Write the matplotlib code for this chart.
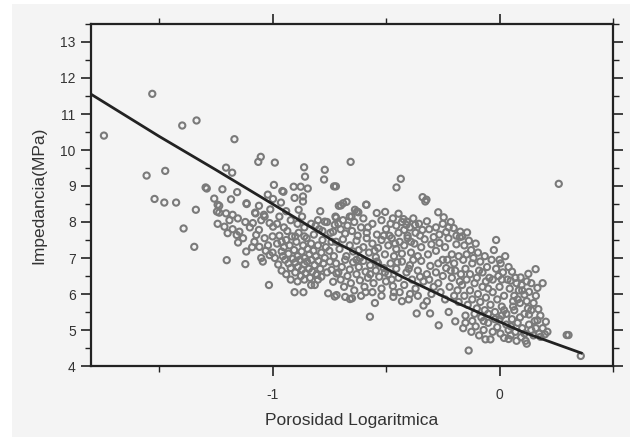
#!/usr/bin/env python3
"""
Impedancia vs Porosidad Logaritmica: nube de puntos con curva de ajuste
"""

import numpy as np
import matplotlib
matplotlib.use("Agg")
import matplotlib.pyplot as plt
from matplotlib.patches import Rectangle
from matplotlib.ticker import MultipleLocator

# ---- datos (x = porosidad log, y = impedancia MPa) ----
puntos_aislados = [
    (-1.743, 10.40), (-1.53, 11.56), (-1.398, 10.68), (-1.335, 10.82), (-1.168, 10.30),
    (-1.555, 9.29), (-1.473, 9.42), (-1.52, 8.64), (-1.477, 8.54), (-1.425, 8.54),
    (-1.338, 8.34), (-1.295, 8.96), (-1.290, 8.93), (-1.392, 7.82), (-1.345, 7.31),
    (-1.202, 6.94), (-1.12, 6.83), (-1.016, 6.25), (-0.903, 6.05), (-0.864, 6.05),
    (0.261, 9.06), (0.358, 4.28), (0.296, 4.86), (0.304, 4.86), (-0.136, 4.43),
    (-0.268, 5.13), (-0.571, 5.37), (-0.656, 9.67), (-1.052, 9.81), (-1.063, 9.67),
    (-0.99, 9.65), (-0.435, 9.20), (-0.454, 8.96), (-0.339, 8.69), (-0.322, 8.62),
]

banda_superior = [
    (-1.205, 9.51), (-1.178, 9.37), (-0.861, 9.52), (-0.857, 9.26), (-0.77, 9.45),
    (-0.773, 9.18), (-0.729, 8.99), (-0.994, 9.03), (-0.957, 8.86), (-0.952, 8.84),
    (-0.907, 8.98), (-0.876, 8.98), (-0.845, 8.93), (-0.903, 8.67), (-0.866, 8.71),
    (-0.866, 8.57), (-0.885, 8.34), (-1.221, 8.91), (-1.156, 8.83), (-1.183, 8.63),
    (-1.115, 8.52), (-1.235, 8.45), (-1.021, 8.76), (-0.998, 8.64), (-0.963, 8.54),
    (-1.077, 8.26), (-1.038, 8.20), (-0.723, 8.15), (-0.708, 8.45), (-1.257, 8.65),
    (-1.245, 8.29), (-0.721, 8.99), (-0.699, 8.46), (-0.674, 8.56), (-0.588, 8.48),
    (-0.628, 8.29), (-0.622, 8.27), (-0.541, 8.25), (-0.504, 8.28), (-0.445, 8.23),
    (-0.27, 8.27), (-0.246, 8.13), (-0.652, 8.15), (-0.423, 8.08), (-0.689, 8.52),
    (-0.637, 8.34), (-0.586, 8.48), (-0.408, 8.01), (-0.372, 7.92), (-0.327, 8.57),
    (-0.224, 7.85), (-0.202, 7.83), (-0.173, 7.73), (-0.143, 7.71),
]

nube_izquierda = [
    (-1.242, 8.48), (-1.235, 8.26), (-1.242, 7.95), (-1.205, 8.24), (-1.176, 8.20),
    (-1.153, 8.10), (-1.212, 7.87), (-1.198, 7.69), (-1.176, 7.80), (-1.158, 7.64),
    (-1.146, 7.73), (-1.152, 7.43), (-1.116, 7.18), (-1.114, 8.50), (-1.075, 8.24),
    (-1.087, 7.97), (-1.072, 7.64), (-1.08, 7.45), (-1.058, 7.31), (-1.035, 7.55),
    (-1.035, 8.15), (-1.013, 7.97), (-0.998, 7.87), (-1.043, 6.90), (-1.013, 7.08),
    (-1.13, 7.55), (-1.10, 7.85), (-1.09, 7.30), (-1.06, 7.78), (-1.05, 8.05),
    (-1.02, 7.35), (-1.0, 7.15), (-1.03, 7.20), (-1.12, 8.0), (-1.19, 8.05),
    (-1.0, 7.6), (-1.01, 8.35), (-1.06, 8.45),
]

nucleo_denso = [
    (-0.98, 7.40), (-0.97, 7.62), (-0.96, 7.18), (-0.955, 7.05), (-0.95, 7.30),
    (-0.945, 6.95), (-0.94, 7.50), (-0.935, 7.75), (-0.93, 6.85), (-0.93, 7.12),
    (-0.925, 7.35), (-0.92, 6.72), (-0.915, 7.60), (-0.91, 6.98), (-0.905, 7.22),
    (-0.90, 6.60), (-0.90, 6.88), (-0.895, 7.45), (-0.89, 7.05), (-0.888, 6.75),
    (-0.885, 7.70), (-0.88, 6.95), (-0.875, 6.50), (-0.872, 7.18), (-0.87, 6.68),
    (-0.865, 7.35), (-0.86, 6.82), (-0.858, 7.00), (-0.855, 6.58), (-0.85, 7.55),
    (-0.848, 6.90), (-0.845, 7.25), (-0.84, 6.70), (-0.838, 7.10), (-0.835, 6.45),
    (-0.83, 7.40), (-0.828, 6.95), (-0.825, 6.62), (-0.82, 7.20), (-0.818, 7.65),
    (-0.815, 6.80), (-0.81, 7.05), (-0.805, 6.55), (-0.80, 7.35), (-0.798, 6.92),
    (-0.795, 7.80), (-0.79, 6.70), (-0.785, 7.15), (-0.78, 7.50), (-0.776, 6.85),
    (-0.77, 7.00), (-0.765, 7.30), (-0.76, 6.60), (-0.96, 6.65), (-0.975, 6.82),
    (-0.99, 7.00), (-0.94, 6.55), (-0.92, 6.40), (-0.89, 6.35), (-0.86, 6.40),
    (-0.83, 6.25), (-0.95, 7.85), (-0.92, 8.05), (-0.89, 7.95), (-0.86, 7.85),
    (-0.83, 7.95), (-0.80, 8.05), (-0.87, 8.15), (-0.97, 8.15), (-0.98, 7.95),
    (-0.94, 8.30), (-0.78, 7.75), (-0.81, 7.90), (-0.79, 8.30), (-0.76, 8.00),
    (-0.77, 8.01), (-0.726, 7.92), (-0.733, 7.73), (-0.814, 6.25), (-0.807, 6.53),
    (-0.785, 6.48), (-0.755, 6.02), (-0.718, 5.97), (-0.733, 6.34), (-0.74, 6.67),
    (-0.718, 6.57), (-0.748, 6.90), (-0.75, 7.20), (-0.74, 7.45), (-0.745, 7.70),
    (-0.73, 7.05),
]

nube_central = [
    (-0.72, 8.12), (-0.71, 7.95), (-0.70, 7.80), (-0.69, 8.05), (-0.68, 7.68),
    (-0.67, 7.90), (-0.66, 8.15), (-0.65, 7.75), (-0.64, 8.00), (-0.625, 7.62),
    (-0.61, 7.85), (-0.60, 8.10), (-0.585, 7.70), (-0.56, 7.95), (-0.54, 7.65),
    (-0.52, 8.05), (-0.50, 7.80), (-0.485, 7.62), (-0.47, 8.10), (-0.455, 7.90),
    (-0.445, 7.70), (-0.43, 8.00), (-0.42, 7.78), (-0.405, 7.62), (-0.395, 7.85),
    (-0.38, 8.10), (-0.37, 7.70), (-0.355, 7.95), (-0.34, 7.78), (-0.32, 8.02),
    (-0.28, 7.85), (-0.265, 7.65), (-0.25, 7.95), (-0.235, 7.72), (-0.215, 8.00),
    (-0.19, 7.62), (-0.72, 7.45), (-0.705, 7.25), (-0.69, 7.52), (-0.675, 7.05),
    (-0.66, 7.35), (-0.645, 7.18), (-0.63, 7.48), (-0.615, 7.00), (-0.60, 7.30),
    (-0.585, 7.55), (-0.575, 7.15), (-0.56, 7.40), (-0.545, 7.02), (-0.535, 7.28),
    (-0.52, 7.50), (-0.505, 7.10), (-0.49, 7.35), (-0.475, 7.55), (-0.465, 7.05),
    (-0.455, 7.25), (-0.44, 7.45), (-0.43, 7.12), (-0.42, 7.35), (-0.405, 7.55),
    (-0.39, 7.15), (-0.375, 7.40), (-0.36, 7.05), (-0.345, 7.30), (-0.33, 7.52),
    (-0.315, 7.10), (-0.30, 7.38), (-0.29, 7.58), (-0.28, 7.20), (-0.265, 7.42),
    (-0.25, 6.95), (-0.24, 7.30), (-0.225, 7.55), (-0.21, 7.10), (-0.20, 6.85),
    (-0.19, 7.38), (-0.18, 7.05), (-0.175, 7.58),
]

bloque_medio = [
    (-0.72, 6.85), (-0.71, 6.60), (-0.70, 6.40), (-0.695, 6.75), (-0.685, 6.20),
    (-0.68, 6.95), (-0.67, 6.50), (-0.66, 6.68), (-0.655, 6.30), (-0.645, 6.88),
    (-0.64, 6.10), (-0.63, 6.55), (-0.62, 6.75), (-0.615, 6.38), (-0.60, 6.92),
    (-0.595, 6.20), (-0.59, 6.62), (-0.58, 6.45), (-0.57, 6.80), (-0.56, 6.05),
    (-0.555, 6.30), (-0.545, 6.65), (-0.54, 6.90), (-0.53, 6.48), (-0.52, 6.15),
    (-0.51, 6.72), (-0.50, 6.35), (-0.49, 6.55), (-0.48, 6.85), (-0.47, 6.22),
    (-0.465, 6.05), (-0.455, 6.70), (-0.445, 6.45), (-0.43, 6.90), (-0.42, 6.25),
    (-0.41, 6.60), (-0.395, 6.80), (-0.385, 6.40), (-0.37, 6.15), (-0.36, 6.65),
    (-0.345, 6.92), (-0.335, 6.35), (-0.32, 6.55), (-0.305, 6.78), (-0.29, 6.20),
    (-0.28, 6.60), (-0.27, 6.30), (-0.26, 6.05), (-0.25, 6.50), (-0.24, 5.85),
    (-0.235, 6.72), (-0.22, 6.20), (-0.21, 6.45), (-0.20, 5.95), (-0.195, 6.65),
    (-0.185, 6.10), (-0.18, 5.78), (-0.175, 6.35), (-0.17, 6.55), (-0.68, 5.92),
    (-0.65, 5.88), (-0.365, 5.46), (-0.306, 5.46), (-0.335, 5.68), (-0.195, 5.24),
    (-0.224, 5.50), (-0.468, 5.92), (-0.394, 6.00), (-0.549, 5.75), (-0.726, 5.93),
    (-0.659, 5.86), (-0.44, 6.05), (-0.40, 5.85), (-0.36, 5.95), (-0.32, 5.80),
    (-0.30, 6.00),
]

nube_derecha = [
    (-0.165, 7.60), (-0.155, 7.35), (-0.145, 7.10), (-0.135, 7.48), (-0.125, 7.22),
    (-0.115, 7.00), (-0.105, 7.40), (-0.095, 7.15), (-0.085, 6.90), (-0.075, 6.60),
    (-0.065, 7.05), (-0.055, 6.75), (-0.045, 6.45), (-0.035, 6.95), (-0.025, 7.22),
    (-0.015, 6.70), (-0.005, 6.50), (0.005, 6.85), (0.015, 6.60), (0.025, 7.05),
    (-0.015, 7.50), (0.035, 6.40), (0.045, 6.15), (0.055, 6.62), (0.065, 5.95),
    (0.075, 6.30), (0.085, 6.10), (0.093, 6.46), (0.097, 6.25), (0.11, 5.98),
    (0.127, 6.56), (0.13, 6.06), (0.159, 6.69), (0.167, 6.17), (0.049, 6.37),
    (0.14, 6.30), (-0.165, 6.25), (-0.155, 5.95), (-0.145, 6.40), (-0.14, 5.70),
    (-0.13, 6.10), (-0.12, 5.85), (-0.11, 6.30), (-0.10, 5.60), (-0.095, 6.00),
    (-0.085, 5.78), (-0.075, 6.20), (-0.065, 5.55), (-0.06, 5.90), (-0.05, 6.15),
    (-0.04, 5.70), (-0.03, 6.05), (-0.02, 5.50), (-0.01, 5.85), (0.0, 6.20),
    (0.01, 5.65), (0.02, 5.95), (0.03, 5.45),
]

banda_inferior = [
    (-0.16, 5.05), (-0.15, 5.40), (-0.124, 4.95), (-0.12, 5.25), (-0.105, 5.10),
    (-0.09, 4.85), (-0.08, 5.35), (-0.07, 5.00), (-0.062, 4.74), (-0.05, 5.20),
    (-0.04, 4.74), (-0.03, 4.95), (-0.02, 5.30), (-0.01, 5.08), (0.004, 4.90),
    (0.01, 5.40), (0.02, 4.78), (0.03, 5.15), (0.04, 5.00), (0.049, 4.85),
    (0.055, 5.30), (0.065, 5.55), (0.07, 4.95), (0.08, 5.20), (0.09, 5.75),
    (0.095, 4.80), (0.10, 5.05), (0.11, 5.45), (0.115, 4.70), (0.12, 4.62),
    (0.125, 5.60), (0.13, 5.43), (0.14, 5.00), (0.15, 4.85), (0.155, 5.25),
    (0.167, 5.27), (0.171, 5.58), (0.181, 4.81), (0.19, 5.05), (0.204, 5.23),
    (0.211, 4.95), (0.20, 4.88), (0.08, 5.85), (0.06, 5.65), (0.15, 5.75),
]

relleno = [
    (-0.62, 7.22), (-0.58, 7.85), (-0.55, 7.20), (-0.51, 7.62), (-0.48, 7.95),
    (-0.46, 7.40), (-0.41, 7.92), (-0.39, 7.45), (-0.35, 7.62), (-0.31, 7.80),
    (-0.57, 6.55), (-0.535, 6.85), (-0.505, 6.60), (-0.475, 6.40), (-0.45, 6.88),
    (-0.40, 6.70), (-0.38, 6.95), (-0.35, 6.48), (-0.31, 6.40), (-0.27, 6.85),
    (-0.23, 6.95), (-0.215, 6.65), (-0.16, 6.95), (-0.15, 6.70), (-0.13, 6.55),
    (-0.12, 6.85), (-0.10, 6.45), (-0.09, 6.65), (-0.06, 6.35), (-0.03, 6.40),
    (0.00, 6.95), (0.01, 6.40), (0.04, 6.75), (0.06, 5.80), (0.07, 6.45),
    (0.10, 6.10), (0.12, 5.80), (0.14, 5.55), (0.16, 5.95), (0.18, 5.40),
    (0.19, 6.30), (0.12, 6.35), (-0.15, 5.20), (-0.11, 5.45), (-0.07, 5.25),
    (-0.05, 5.45), (0.00, 5.30), (0.02, 5.55), (0.05, 5.10), (0.09, 5.35),
    (0.11, 4.90), (0.13, 5.15), (0.16, 5.05), (0.175, 4.90), (0.04, 4.75),
    (0.075, 4.70), (-0.90, 7.60), (-0.86, 7.60), (-0.96, 7.45), (-0.80, 6.40),
    (-1.05, 7.00), (-0.63, 6.95), (-0.59, 6.05), (-0.52, 5.95), (-0.43, 5.80),
    (-0.61, 5.95),
]

# curva de ajuste
curva_x = [-1.80, -1.50, -1.25, -0.90, -0.72, -0.60, -0.43, -0.19, 0.00, 0.10, 0.36]
curva_y = [11.55, 10.38, 9.45, 8.12, 7.43, 7.04, 6.48, 5.76, 5.23, 4.95, 4.36]

grupos = [puntos_aislados, banda_superior, nube_izquierda, nucleo_denso,
          nube_central, bloque_medio, nube_derecha, banda_inferior, relleno]
todos = np.array([p for g in grupos for p in g])

plt.rcParams['font.family'] = ['Liberation Sans', 'DejaVu Sans']
fondo = '#f4f4f4'
oscuro = '#222222'

fig = plt.figure(figsize=(6.3, 4.37), dpi=100, facecolor='white')
# fondo gris con franja blanca a la izquierda y arriba
fig.patches.append(Rectangle((12 / 630, 0), 1 - 12 / 630, 1 - 4 / 437,
                             transform=fig.transFigure, facecolor=fondo,
                             edgecolor='none', zorder=-10))

ax = fig.add_axes([91 / 630, 71 / 437, 522 / 630, 342 / 437])
ax.set_facecolor(fondo)

ax.scatter(todos[:, 0], todos[:, 1], s=20, facecolors='none',
           edgecolors='#7a7a7a', linewidths=1.5, zorder=2)
ax.plot(curva_x, curva_y, color=oscuro, linewidth=2.0, zorder=3)

ax.set_xlim(-1.8, 0.5)
ax.set_ylim(4, 13.5)

ax.xaxis.set_major_locator(MultipleLocator(1))
ax.xaxis.set_minor_locator(MultipleLocator(0.5))
ax.yaxis.set_major_locator(MultipleLocator(1))
ax.yaxis.set_minor_locator(MultipleLocator(0.5))
ax.xaxis.set_major_formatter(plt.FuncFormatter(lambda v, p: f"{v:g}"))

ax.tick_params(which='both', direction='out', color=oscuro,
               top=True, right=True, labelsize=10, labelcolor='#333333')
ax.tick_params(which='major', length=7.5, width=1.2)
ax.tick_params(which='minor', length=4, width=1.0)
ax.tick_params(axis='x', pad=8)

for s in ax.spines.values():
    s.set_linewidth(1.6)
    s.set_color(oscuro)

ax.set_xlabel('Porosidad Logaritmica', fontsize=12.5, color='#333333', labelpad=8)
ax.set_ylabel('Impedancia(MPa)', fontsize=12.5, color='#333333', labelpad=10)

fig.savefig('out.png', dpi=100, facecolor=fig.get_facecolor())
